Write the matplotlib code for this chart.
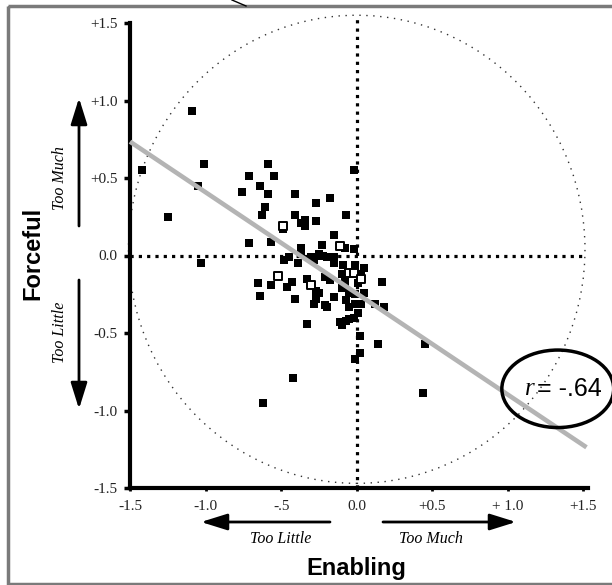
import matplotlib
matplotlib.use("Agg")
import matplotlib.pyplot as plt
import numpy as np
from matplotlib.patches import Circle, Ellipse, Rectangle

# --- data (Enabling = x, Forceful = y) ---
filled_x = [-1.09, -1.01, -1.42, -1.05, -1.25, -1.03, -0.42, -0.62, 0.14, 0.45,
            0.02, -0.01, 0.44, -0.28, -0.21, -0.05, -0.01, 0.18, 0.01, -0.11,
            -0.10, -0.05, -0.02, 0.02, -0.71, -0.57, -0.37, -0.48, -0.45, -0.39,
            -0.37, -0.30, -0.25, -0.65, -0.57, -0.46, -0.43, -0.33, -0.27, -0.64,
            -0.41, -0.27, -0.33, -0.59, -0.71, -0.55, -0.64, -0.76, -0.59, -0.41,
            -0.02, -0.27, -0.18, -0.61, -0.63, -0.41, -0.37, -0.34, -0.34, -0.27,
            -0.07, -0.49, -0.15, -0.23, -0.08, -0.02, -0.25, -0.22, -0.20, -0.15,
            -0.28, -0.15, -0.09, -0.01, 0.05, 0.03, -0.10, 0.17, -0.21, -0.18,
            -0.08, 0.01, -0.25, -0.10, -0.05, -0.01, 0.05, -0.15, -0.07, 0.03,
            -0.20, 0.12, -0.07]
filled_y = [0.93, 0.59, 0.55, 0.45, 0.25, -0.05, -0.79, -0.95, -0.57, -0.57,
            -0.63, -0.67, -0.89, -0.31, -0.32, -0.33, -0.31, -0.33, -0.37, -0.43,
            -0.45, -0.41, -0.40, -0.52, 0.08, 0.09, 0.05, -0.03, -0.01, -0.05,
            0.01, -0.01, 0.00, -0.18, -0.19, -0.20, -0.17, -0.15, -0.23, -0.26,
            -0.28, -0.28, -0.44, 0.59, 0.51, 0.51, 0.45, 0.41, 0.40, 0.40,
            0.55, 0.34, 0.37, 0.31, 0.26, 0.26, 0.21, 0.23, 0.19, 0.22,
            0.26, 0.17, 0.13, 0.07, 0.05, 0.04, 0.01, 0.00, -0.01, -0.01,
            -0.03, -0.05, -0.06, -0.06, -0.08, -0.12, -0.12, -0.17, -0.14, -0.16,
            -0.17, -0.18, -0.24, -0.21, -0.24, -0.25, -0.24, -0.27, -0.29, -0.31,
            -0.33, -0.31, -0.42]
open_x = [-0.49, -0.11, -0.52, -0.30, -0.05, -0.02, 0.03]
open_y = [0.19, 0.06, -0.13, -0.19, -0.11, -0.11, -0.15]

fit_slope = -0.653
fit_intercept = -0.245
r_text = "= -.64"

ticks = [-1.5, -1.0, -0.5, 0.0, 0.5, 1.0, 1.5]
xtick_labels = ["-1.5", "-1.0", "-.5", "0.0", "+0.5", "+ 1.0", "+1.5"]
ytick_labels = ["-1.5", "-1.0", "-0.5", "0.0", "+0.5", "+1.0", "+1.5"]

serif = "Liberation Serif"
sans = "Liberation Sans"

fig = plt.figure(figsize=(6.12, 5.85), dpi=100)
ax = fig.add_axes([130 / 612, 97 / 585, 458 / 612, 465 / 585])
ax.set_xlim(-1.5, 1.53)
ax.set_ylim(-1.5, 1.5)

for s in ["top", "right"]:
    ax.spines[s].set_visible(False)
for s in ["left", "bottom"]:
    ax.spines[s].set_linewidth(3)
ax.spines["bottom"].set_bounds(-1.5, 1.53)

ax.set_xticks(ticks)
ax.set_xticklabels(xtick_labels)
ax.set_yticks(ticks)
ax.set_yticklabels(ytick_labels)
ax.tick_params(axis="y", length=4, width=2.5, pad=5, labelsize=11)
ax.tick_params(axis="x", length=2, width=2, pad=7, labelsize=11)
for lab in ax.get_xticklabels() + ax.get_yticklabels():
    lab.set_fontfamily(serif)
    lab.set_color("#222222")

# dotted reference circle and axes through origin
ax.add_patch(Circle((0, 0.04), 1.51, fill=False, ls=(0, (1, 4)), lw=1.0,
                    ec="#333333", clip_on=False, zorder=1))
ax.plot([-1.5, 1.5], [0, 0], color="black", lw=2.3, ls=(0, (1, 1.6)),
        dash_capstyle="butt", clip_on=False, zorder=2)
ax.plot([0, 0], [-1.5, 1.55], color="black", lw=2.3, ls=(0, (1, 1.6)),
        dash_capstyle="butt", clip_on=False, zorder=2)

ax.scatter(filled_x, filled_y, marker="s", s=36, c="black", linewidths=0,
           zorder=3)
ax.scatter(open_x, open_y, marker="s", s=30, facecolors="white",
           edgecolors="black", linewidths=1.4, zorder=3)

fx = np.array([-1.5, 1.52])
ax.plot(fx, fit_intercept + fit_slope * fx, color="#b4b4b4", lw=3.3,
        solid_capstyle="butt", clip_on=False, zorder=4)

ax.add_patch(Ellipse((1.33, -0.86), 0.74, 0.50, fill=False, lw=2.5,
                     ec="black", clip_on=False, zorder=5))
ax.text(1.18, -0.86, "r", fontfamily=serif, style="italic", fontsize=18,
        ha="right", va="center", zorder=6)
ax.text(1.19, -0.86, r_text, fontfamily=sans, fontsize=18,
        ha="left", va="center", zorder=6)

# overlay in pixel coordinates for labels, arrows and frame
ov = fig.add_axes([0, 0, 1, 1], zorder=10)
ov.set_xlim(0, 612)
ov.set_ylim(585, 0)
ov.axis("off")
ov.patch.set_alpha(0)

ov.add_patch(Rectangle((8, 6), 620, 578, fill=False, ec="#7a7a7a", lw=2.5))
ov.plot([232, 246], [0, 6], color="black", lw=1)

ov.text(33, 253, "Forceful", rotation=90, fontfamily=sans, fontweight="bold",
        fontsize=17, ha="center", va="center")
ov.text(356, 569, "Enabling", fontfamily=sans, fontweight="bold",
        fontsize=17, ha="center", va="center")

it = dict(fontfamily=serif, style="italic", fontsize=11.5,
          ha="center", va="center")
ov.text(60, 178, "Too Much", rotation=90, **it)
ov.text(60, 332, "Too Little", rotation=90, **it)
ov.text(281, 539, "Too Little", **it)
ov.text(431, 539, "Too Much", **it)

arrow = dict(arrowstyle="-|>,head_length=1.6,head_width=0.5", lw=2,
             color="black", mutation_scale=10, shrinkA=0, shrinkB=0)
for tail, tip in [((79, 226), (79, 98)), ((79, 280), (79, 409)),
                  ((330, 522), (201, 522)), ((383, 522), (516, 522))]:
    ov.annotate("", xy=tip, xytext=tail, arrowprops=arrow)

fig.savefig("out.png", dpi=100, facecolor="white")
